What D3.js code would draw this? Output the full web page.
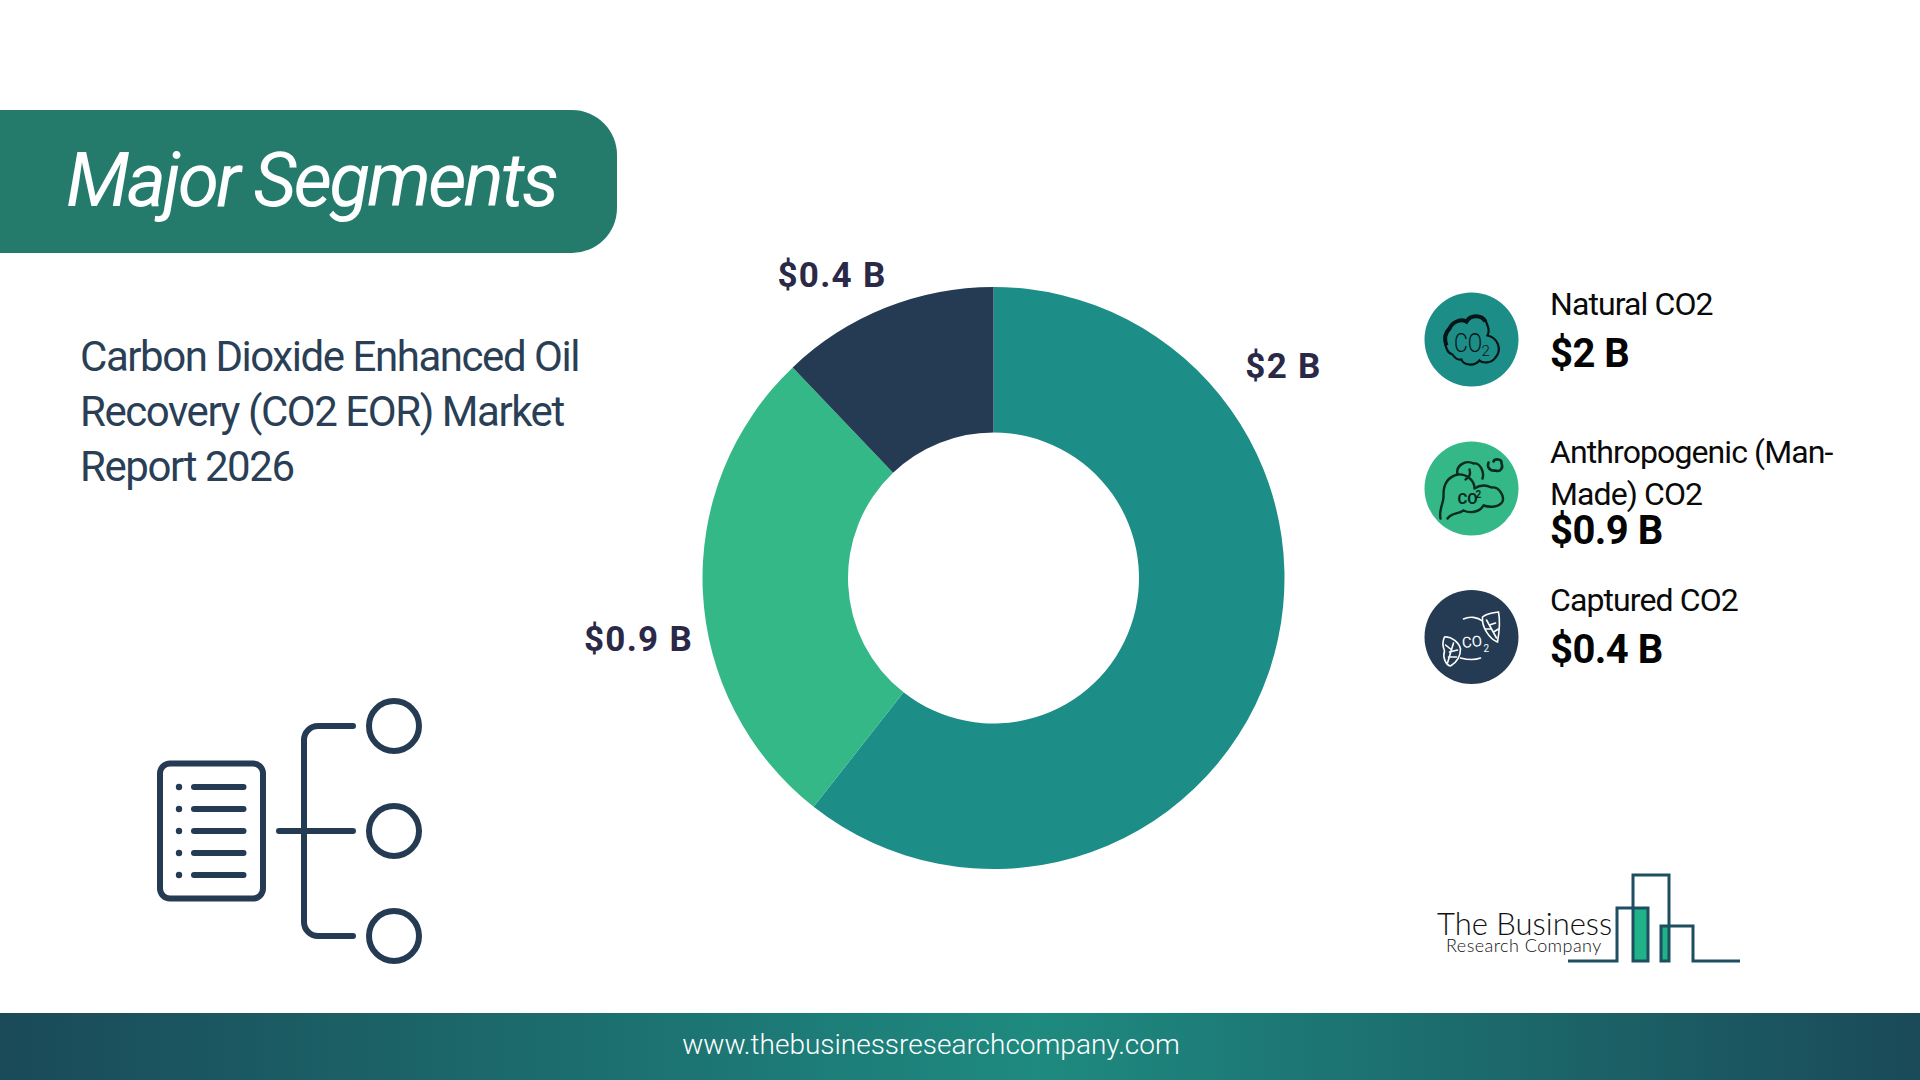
<!doctype html>
<html>
<head>
<meta charset="utf-8">
<script src="https://cdn.jsdelivr.net/npm/d3@7"></script>
<style type="text/css">
html,body{
    margin: 0;
    overflow: hidden;
    background: #fff;
}
text {
    font-family: Roboto, sans-serif;
}
</style>
</head>
<body>
<script type="text/javascript">
var segments = ["Natural CO2", "Anthropogenic (Man-Made) CO2", "Captured CO2"];
var values = [2, 0.9, 0.4];
var valueLabels = ["$2 B", "$0.9 B", "$0.4 B"];
var sliceColors = ["#1c8e87", "#34b888", "#243b53"];
var subtitleLines = ["Carbon Dioxide Enhanced Oil", "Recovery (CO2 EOR) Market", "Report 2026"];

var w = 1920, h = 1080,
    cx = 993.5, cy = 578,
    outer = 291, inner = 145.5,
    navy = "#243b53";

var svg = d3.select("body").append("svg")
    .attr("width", w)
    .attr("height", h);

var defs = svg.append("defs");
var grad = defs.append("linearGradient").attr("id", "foot");
grad.append("stop").attr("offset", "0%").attr("stop-color", "#1a4a58");
grad.append("stop").attr("offset", "54%").attr("stop-color", "#1e8a80");
grad.append("stop").attr("offset", "100%").attr("stop-color", "#1a4a58");

// header banner, only the right corners are round
svg.append("path")
    .attr("d", "M0,110H572A45,45 0 0 1 617,155V208A45,45 0 0 1 572,253H0Z")
    .attr("fill", "#247b6c");
svg.append("text")
    .attr("x", 66).attr("y", 206)
    .attr("font-size", 75).attr("font-weight", 400).attr("font-style", "italic")
    .attr("letter-spacing", -2.95)
    .attr("fill", "#fff")
    .text("Major Segments");

svg.selectAll("text.sub").data(subtitleLines).enter().append("text")
    .attr("class", "sub")
    .attr("x", 80)
    .attr("y", function(d, i){return 371 + i*55})
    .attr("font-size", 42).attr("font-weight", 400)
    .attr("letter-spacing", -1.45)
    .attr("fill", "#2a3f56")
    .text(function(d){return d});

// donut
var pie = d3.pie().sort(null);
var arc = d3.arc().innerRadius(inner).outerRadius(outer);
var donut = svg.append("g").attr("transform", "translate(" + cx + "," + cy + ")");
donut.selectAll("path").data(pie(values)).enter().append("path")
    .attr("d", arc)
    .attr("fill", function(d, i){return sliceColors[i]});

// slice labels sit by hand around the ring, not on the centroids
var labelOffsets = [[290, -200], [-355, 73], [-161.5, -291]];
donut.selectAll("text").data(valueLabels).enter().append("text")
    .attr("x", function(d, i){return labelOffsets[i][0]})
    .attr("y", function(d, i){return labelOffsets[i][1]})
    .attr("text-anchor", "middle")
    .attr("font-size", 35).attr("font-weight", 700)
    .attr("letter-spacing", 1.3)
    .attr("fill", "#2a2947")
    .text(function(d){return d});

// legend
var legendY = [339.5, 488.5, 637];
var legendLines = [["Natural CO2"], ["Anthropogenic (Man-", "Made) CO2"], ["Captured CO2"]];
var legendBase = [[315], [463, 505], [611]];
var legendValueBase = [367, 544, 663];

var legend = svg.selectAll("g.leg").data(segments).enter().append("g").attr("class", "leg");
legend.append("circle")
    .attr("cx", 1471.5)
    .attr("cy", function(d, i){return legendY[i]})
    .attr("r", 47)
    .attr("fill", function(d, i){return sliceColors[i]});
legend.each(function(d, i){
    var g = d3.select(this);
    legendLines[i].forEach(function(line, j){
        g.append("text")
            .attr("x", 1550).attr("y", legendBase[i][j])
            .attr("font-size", 32).attr("font-weight", 400)
            .attr("letter-spacing", -0.9)
            .attr("fill", "#0a0a0a")
            .text(line);
    });
    g.append("text")
        .attr("x", 1550).attr("y", legendValueBase[i])
        .attr("font-size", 40).attr("font-weight", 700)
        .attr("letter-spacing", -0.55)
        .attr("fill", "#050505")
        .text(valueLabels[i]);
});

// icon 1, cloud
var ic1 = svg.append("g").attr("transform", "translate(1471.5,339.5)")
    .attr("fill", "none").attr("stroke", "#071417").attr("stroke-width", 2.2);
ic1.append("path")
    .attr("d", "M-19,15C-27,13 -29,-4 -22,-10C-20,-18 -10,-21 -5,-17C-1,-26 14,-25 16,-14C18,-9 17,-6 16,-4C26,-2 31,10 24,18C20,24 11,24 8,21C3,27 -8,26 -10,20C-14,21 -17,18 -19,15Z");
ic1.append("path").attr("stroke-width", 4)
    .attr("d", "M-25,6C-28,-2 -25,-8 -22,-11C-19,-18 -10,-21 -5,-18C-1,-25 10,-25 14,-18");
ic1.append("text").attr("x", -17).attr("y", 12)
    .attr("font-size", 25).attr("font-weight", 300)
    .attr("fill", "#071417").attr("stroke", "none")
    .attr("transform", "translate(-3,0) scale(0.85,1)")
    .text("CO");
ic1.append("text").attr("x", 10).attr("y", 16)
    .attr("font-size", 15).attr("font-weight", 300)
    .attr("fill", "#071417").attr("stroke", "none").text("2");

// icon 2, smoke plume
var ic2 = svg.append("g").attr("transform", "translate(1471.5,488.5)")
    .attr("fill", "none").attr("stroke", "#0a2a22").attr("stroke-width", 2.4)
    .attr("stroke-linecap", "round");
ic2.append("path")
    .attr("d", "M-31,30C-33,20 -27,14 -28,6C-28,-6 -22,-12 -14,-14C-16,-23 -6,-29 2,-25C9,-26 13,-16 11,-10");
ic2.append("path")
    .attr("d", "M-14,-14C-6,-15 3,-9 3,0M3,0C10,-5 16,-3 20,-1C28,-2 33,8 31,13C28,19 18,19 12,17C8,24 -2,25 -8,22C-14,26 -20,24 -24,30");
ic2.append("path").attr("d", "M-2,-19C-1,-15 -1,-12 -6,-9");
ic2.append("path").attr("stroke-width", 2.6)
    .attr("d", "M17,-26C15,-21 19,-17 24,-18C29,-16 32,-21 30,-25C31,-30 23,-30 22,-27");
ic2.append("text").attr("x", -14).attr("y", 15)
    .attr("font-size", 15).attr("font-weight", 700).attr("fill", "#0a2a22").attr("stroke", "none")
    .text("CO");
ic2.append("text").attr("x", 4).attr("y", 9)
    .attr("font-size", 10).attr("font-weight", 700).attr("fill", "#0a2a22").attr("stroke", "none")
    .text("2");

// icon 3, leaves
var ic3 = svg.append("g").attr("transform", "translate(1471.5,637)")
    .attr("fill", "none").attr("stroke", "#fff").attr("stroke-width", 1.6)
    .attr("stroke-linecap", "round");
ic3.append("path").attr("d", "M11,-20C16,-24 22,-24 27,-25C29,-15 28,-6 26,5C18,2 10,-10 11,-20Z");
ic3.append("path").attr("d", "M15,-17L25,1M18,-12L24,-14M20,-8L14,-8M22,-5L27,-8");
ic3.append("path").attr("d", "M-27,0C-20,-1 -12,6 -11,12C-11,20 -16,26 -21,29C-26,28 -29,20 -27,14C-29,9 -29,4 -27,0Z");
ic3.append("path").attr("d", "M-24,26L-18,6M-22,15L-14,13M-21,12L-26,8M-23,20L-15,20");
ic3.append("path").attr("d", "M-8,-18C-2,-21 6,-20 11,-16");
ic3.append("path").attr("d", "M-11,21C-3,23 4,23 9,21");
ic3.append("text").attr("x", -9).attr("y", 11)
    .attr("font-size", 15).attr("fill", "#fff").attr("stroke", "none")
    .attr("transform", "rotate(-6 -9 11)").text("CO");
ic3.append("text").attr("x", 12).attr("y", 15)
    .attr("font-size", 10).attr("fill", "#fff").attr("stroke", "none").text("2");

// document and tree icon
var tree = svg.append("g")
    .attr("fill", "none").attr("stroke", navy).attr("stroke-width", 6)
    .attr("stroke-linecap", "round");
tree.append("rect")
    .attr("x", 160).attr("y", 763.5).attr("width", 103).attr("height", 135).attr("rx", 10);
var rowY = [787, 809, 831, 853, 875];
tree.selectAll("circle.dot").data(rowY).enter().append("circle")
    .attr("class", "dot")
    .attr("cx", 179).attr("cy", function(d){return d}).attr("r", 3.2)
    .attr("fill", navy).attr("stroke", "none");
tree.selectAll("line.row").data(rowY).enter().append("line")
    .attr("class", "row")
    .attr("x1", 194).attr("x2", 243.5)
    .attr("y1", function(d){return d}).attr("y2", function(d){return d});
tree.append("path").attr("d", "M279,831H353M353,726H318A14,14 0 0 0 304,740V922A14,14 0 0 0 318,936H353");
tree.selectAll("circle.node").data([726, 831, 936]).enter().append("circle")
    .attr("class", "node")
    .attr("cx", 394).attr("cy", function(d){return d}).attr("r", 25);

// company logo
svg.append("rect").attr("x", 1633).attr("y", 907).attr("width", 15).attr("height", 53).attr("fill", "#20b388");
svg.append("rect").attr("x", 1661).attr("y", 925).attr("width", 7).attr("height", 35).attr("fill", "#20b388");
svg.append("path")
    .attr("d", "M1568,961H1617V908H1648V961H1633V875H1669V961H1661V926H1693V961H1740")
    .attr("fill", "none").attr("stroke", "#1d4f60").attr("stroke-width", 3);
svg.append("text").attr("x", 1437).attr("y", 935)
    .style("font-family", "Lato, sans-serif")
    .attr("font-size", 31).attr("font-weight", 300)
    .attr("fill", "#111").text("The Business");
svg.append("text").attr("x", 1446).attr("y", 952)
    .style("font-family", "Lato, sans-serif")
    .attr("font-size", 18).attr("font-weight", 300)
    .attr("letter-spacing", 0.45)
    .attr("fill", "#111").text("Research Company");

// footer
svg.append("rect").attr("x", 0).attr("y", 1013).attr("width", w).attr("height", 67).attr("fill", "url(#foot)");
svg.append("text")
    .attr("x", 931).attr("y", 1054)
    .attr("text-anchor", "middle")
    .attr("font-size", 28).attr("font-weight", 300)
    .attr("fill", "#fff")
    .text("www.thebusinessresearchcompany.com");
</script>
</body>
</html>
